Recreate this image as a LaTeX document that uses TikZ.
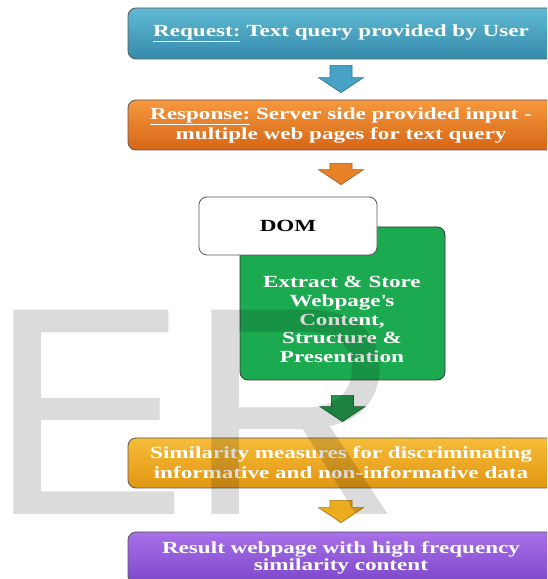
\documentclass[tikz,border=0pt]{standalone}
\usepackage{fontspec}
\setmainfont{Liberation Serif}[FakeStretch=1.36]
\newfontfamily\wmfont{Liberation Sans}
\usetikzlibrary{calc}
\definecolor{reqT}{RGB}{96,186,212}
\definecolor{reqB}{RGB}{52,138,170}
\definecolor{resT}{RGB}{246,152,62}
\definecolor{resB}{RGB}{214,102,22}
\definecolor{grn}{RGB}{28,170,80}
\definecolor{simT}{RGB}{246,188,56}
\definecolor{simB}{RGB}{226,150,18}
\definecolor{resuT}{RGB}{168,112,232}
\definecolor{resuB}{RGB}{124,70,202}
\definecolor{arBlue}{RGB}{72,162,198}
\definecolor{arOrange}{RGB}{232,130,40}
\definecolor{arGreen}{RGB}{36,150,76}
\definecolor{arGold}{RGB}{236,172,32}
\tikzset{
  flowbox/.style={draw=black!65, line width=0.8pt, rounded corners=8pt,
    minimum width=426pt, align=center, text=white,
    font=\bfseries\fontsize{17}{20}\selectfont},
}
\newcommand\blockarrow[5]{%
  \draw[draw=#5!70!black, fill=#5, line width=0.6pt]
    let \p1=($(#1)+(0,-#2)$), \p2=($(#3)+(0,#4)$) in
    (\x1-11pt,\y1) -- (\x1+11pt,\y1) -- (\x1+11pt,\y2+15pt) --
    (\x1+22.5pt,\y2+15pt) -- (\x1,\y2) -- (\x1-22.5pt,\y2+15pt) --
    (\x1-11pt,\y2+15pt) -- cycle;}
\begin{document}
\begin{tikzpicture}[x=1pt,y=1pt]
\clip (0,0) rectangle (547,579);
\fill[white] (0,0) rectangle (547,579);
% boxes
\node[flowbox, top color=reqT, bottom color=reqB, minimum height=51pt] (req) at (341,545.5)
  {\underline{Request:} Text query provided by User};
\node[flowbox, top color=resT, bottom color=resB, minimum height=50pt] (resp) at (341,454)
  {\underline{Response:} Server side provided input -\\ multiple web pages for text query};
\node[draw=black!80, line width=0.8pt, rounded corners=8pt, fill=grn,
  minimum width=205pt, minimum height=153pt] (ext) at (342.5,275.5) {};
\node[align=center, text=white, font=\bfseries\fontsize{17}{18.8}\selectfont] (exttxt) at (342,259.5)
  {Extract \& Store\\ Webpage\textquotesingle s\\ Content,\\ Structure \&\\ Presentation};
\node[draw=black!65, line width=0.8pt, rounded corners=8pt, fill=white,
  minimum width=178pt, minimum height=58pt, font=\bfseries\fontsize{17}{20}\selectfont] (dom) at (288,353) {DOM};
\node[flowbox, top color=simT, bottom color=simB, minimum height=50pt] (sim) at (341,116)
  {Similarity measures for discriminating\\ informative and non-informative data};
\node[flowbox, top color=resuT, bottom color=resuB, minimum height=52pt] (res) at (341,21)
  {\raisebox{3pt}{\shortstack{Result webpage with high frequency\\[-1pt] similarity content}}};
% connectors
\blockarrow{req.south}{6}{resp.north}{7}{arBlue}
\blockarrow{resp.south}{13}{dom.north}{12}{arOrange}
\blockarrow{ext.south}{15}{sim.north}{16}{arGreen}
\blockarrow{sim.south}{12}{res.north}{9}{arGold}
% watermark
\node[anchor=base west, inner sep=0pt, text=black, text opacity=0.14,
  font=\wmfont\fontsize{297}{297}\selectfont] (wm) at (0,64) {\hspace*{-10.5pt}ER};
\end{tikzpicture}
\end{document}
